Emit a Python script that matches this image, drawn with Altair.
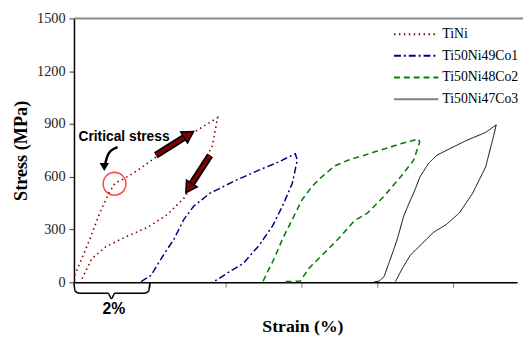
import altair as alt
import pandas as pd

# ---- data ----
series_names = ["TiNi", "Ti50Ni49Co1", "Ti50Ni48Co2", "Ti50Ni47Co3"]

tini_strain = [0.02, 0.40, 0.70, 0.92, 1.08, 1.34, 1.69, 2.16, 2.70, 3.16, 3.79,
               3.64, 3.25, 2.94, 2.47, 1.95, 1.35, 0.83, 0.47, 0.18]
tini_stress = [40, 235, 405, 505, 563, 591, 638, 711, 785, 852, 936,
               767, 627, 487, 386, 313, 257, 201, 134, 6]

co1_strain = [1.77, 2.03, 2.38, 2.64, 2.90, 3.16, 3.58, 4.29, 4.98, 5.40, 5.84,
              5.89, 5.76, 5.50, 5.24, 4.88, 4.46, 4.11, 3.77, 3.64]
co1_stress = [4, 39, 162, 246, 358, 433, 505, 582, 647, 684, 731,
              694, 563, 433, 321, 209, 106, 62, 13, 4]

co2_strain = [4.99, 5.11, 5.28, 5.50, 5.76, 6.02, 6.28, 6.54, 6.88, 7.23, 7.92, 8.62, 9.09,
              9.12, 8.96, 8.62, 8.18, 7.75, 7.40, 6.97, 6.54, 6.19, 5.97, 5.50]
co2_stress = [7, 60, 134, 246, 358, 470, 545, 600, 662, 694, 740, 787, 815,
              797, 694, 600, 489, 395, 350, 246, 153, 78, 7, 3]

co3_strain = [7.92, 8.05, 8.18, 8.35, 8.53, 8.70, 8.83, 8.96, 9.13, 9.35, 9.57, 9.91, 10.35, 10.86, 11.14,
              11.04, 10.86, 10.52, 10.17, 9.83, 9.48, 9.13, 8.87, 8.66, 8.48]
co3_stress = [2, 7, 32, 134, 246, 377, 445, 507, 600, 675, 722, 759, 806, 852, 895,
              806, 656, 507, 395, 330, 283, 209, 153, 78, 4]

y_ticks = [0, 300, 600, 900, 1200, 1500]
x_ticks = [0, 2, 4, 6, 8, 10]

colors = ["#800000", "#000080", "#008000", "#000000"]
legend_colors = ["#800000", "#000080", "#008000", "#808080"]
dashes = [[1.5, 3.5], [7, 3, 2, 3], [6, 4], [1, 0]]
widths = [1.6, 1.5, 1.6, 1.0]

# ---- build table ----
rows = []
for name, xs, ys in zip(series_names,
                        [tini_strain, co1_strain, co2_strain, co3_strain],
                        [tini_stress, co1_stress, co2_stress, co3_stress]):
    for i, (a, b) in enumerate(zip(xs, ys)):
        rows.append({"series": name, "strain": a, "stress": b, "order": i})
df = pd.DataFrame(rows)

W, H = 450, 268
SERIF = "Liberation Serif, Times New Roman, serif"
SANS = "Liberation Sans"
xscale = alt.Scale(domain=[0, 11.69], nice=False, zero=False)
yscale = alt.Scale(domain=[0, 1500], nice=False)

x_axis = alt.Axis(values=x_ticks, labels=False, tickSize=5, tickColor="#777",
                  domainColor="#000", domainWidth=1.5, grid=False,
                  title="Strain (%)", titleX=232, titleY=50, titleBaseline="alphabetic",
                  titleFont=SERIF, titleFontSize=18, titleFontWeight="bold", titleColor="#000")
y_axis = alt.Axis(values=y_ticks, format="d", tickSize=5, tickColor="#333", domainColor="#000",
                  domainWidth=1.5, grid=False, labelPadding=4,
                  labelFont=SERIF, labelFontSize=14.5, labelColor="#222",
                  title="Stress (MPa)", titlePadding=6,
                  titleFont=SERIF, titleFontSize=18.5, titleFontWeight="bold", titleColor="#000")

X = alt.X("strain:Q", scale=xscale, axis=x_axis)
Y = alt.Y("stress:Q", scale=yscale, axis=y_axis)

layers = []
for k, name in enumerate(series_names):
    sub = df[df.series == name]
    ch = alt.Chart(sub).mark_line(color=colors[k], strokeDash=dashes[k],
                                  strokeWidth=widths[k], clip=False).encode(
        x=X, y=Y, order="order:Q",
    )
    layers.append(ch)

# top border
layers.append(alt.Chart(pd.DataFrame({"a": [0]})).mark_rule(color="#888", strokeWidth=2).encode(
    x=alt.value(0), x2=alt.value(W + 6), y=alt.value(0)))

# legend (manual)
leg_y = [16, 38, 60, 82]
for k, name in enumerate(series_names):
    one = pd.DataFrame({"label": [name]})
    layers.append(alt.Chart(one).mark_rule(color=legend_colors[k], strokeDash=dashes[k],
                                           strokeWidth=2).encode(
        x=alt.value(325), x2=alt.value(370), y=alt.value(leg_y[k])))
    layers.append(alt.Chart(one).mark_text(align="left", baseline="middle",
                                           font=SERIF, fontSize=14,
                                           color="#000").encode(
        x=alt.value(374), y=alt.value(leg_y[k]), text="label:N"))

# annotations
ann_text = pd.DataFrame({"strain": [1.32], "stress": [828], "t": ["Critical stress"]})
layers.append(alt.Chart(ann_text).mark_text(font=SANS, fontWeight="bold",
                                            fontSize=14, baseline="middle", color="#000").encode(
    x=X, y=Y, text="t:N"))

circ = pd.DataFrame({"strain": [1.07], "stress": [560]})
layers.append(alt.Chart(circ).mark_point(shape="circle", size=540, filled=False,
                                         color="#ff0000", strokeWidth=1.6).encode(x=X, y=Y))

curve = pd.DataFrame({"strain": [1.15, 0.95, 0.865, 0.823], "stress": [768, 750, 712, 672],
                      "o": [0, 1, 2, 3]})
layers.append(alt.Chart(curve).mark_line(color="#000", strokeWidth=2.5, interpolate="basis").encode(
    x=X, y=Y, order="o:Q"))
head = pd.DataFrame({"strain": [0.80], "stress": [655]})
layers.append(alt.Chart(head).mark_point(shape="triangle-down", size=90, filled=True,
                                         color="#000", opacity=1).encode(x=X, y=Y))

# thick arrows
arrows = [
    {"x0": 2.16, "y0": 722, "xc": 3.03, "yc": 840, "angle": 58},
    {"x0": 3.59, "y0": 722, "xc": 3.03, "yc": 535, "angle": 213},
]
for i, a in enumerate(arrows):
    shaft = pd.DataFrame({"strain": [a["x0"], a["xc"]], "stress": [a["y0"], a["yc"]], "o": [0, 1]})
    layers.append(alt.Chart(shaft).mark_line(color="#000", strokeWidth=7, strokeCap="butt").encode(
        x=X, y=Y, order="o:Q"))
    layers.append(alt.Chart(shaft).mark_line(color="#800000", strokeWidth=3.5, strokeCap="butt").encode(
        x=X, y=Y, order="o:Q"))
    hd = pd.DataFrame({"strain": [a["xc"]], "stress": [a["yc"]]})
    layers.append(alt.Chart(hd).mark_point(shape="triangle-up", size=170, filled=True,
                                           fill="#800000", stroke="#000", strokeWidth=1.5,
                                           opacity=1, angle=a["angle"]).encode(x=X, y=Y))

# brace under the axis and "2%"
brace = pd.DataFrame({
    "strain": [0.0, 0.03, 0.15, 0.90, 0.99, 1.08, 1.85, 1.97, 2.0],
    "stress": [-5, -50, -62, -62, -92, -62, -62, -50, -5],
    "o": list(range(9)),
})
layers.append(alt.Chart(brace).mark_line(color="#000", strokeWidth=1.5, interpolate="monotone",
                                         clip=False).encode(x=X, y=Y, order="o:Q"))
pct = pd.DataFrame({"strain": [1.05], "stress": [-150], "t": ["2%"]})
layers.append(alt.Chart(pct).mark_text(font=SANS, fontWeight="bold", fontSize=16,
                                       baseline="middle", color="#000").encode(
    x=X, y=Y, text="t:N"))

chart = alt.layer(*layers).properties(
    width=W, height=H,
    padding={"left": 67, "top": 8, "right": 6, "bottom": 55},
    autosize=alt.AutoSizeParams(type="none"),
).configure(background="white", font=SERIF).configure_view(stroke=None).configure_axis(
    labelFont=SERIF, titleFont=SERIF,
)

chart.save("out.html", embed_options={"renderer": "svg", "actions": False})
